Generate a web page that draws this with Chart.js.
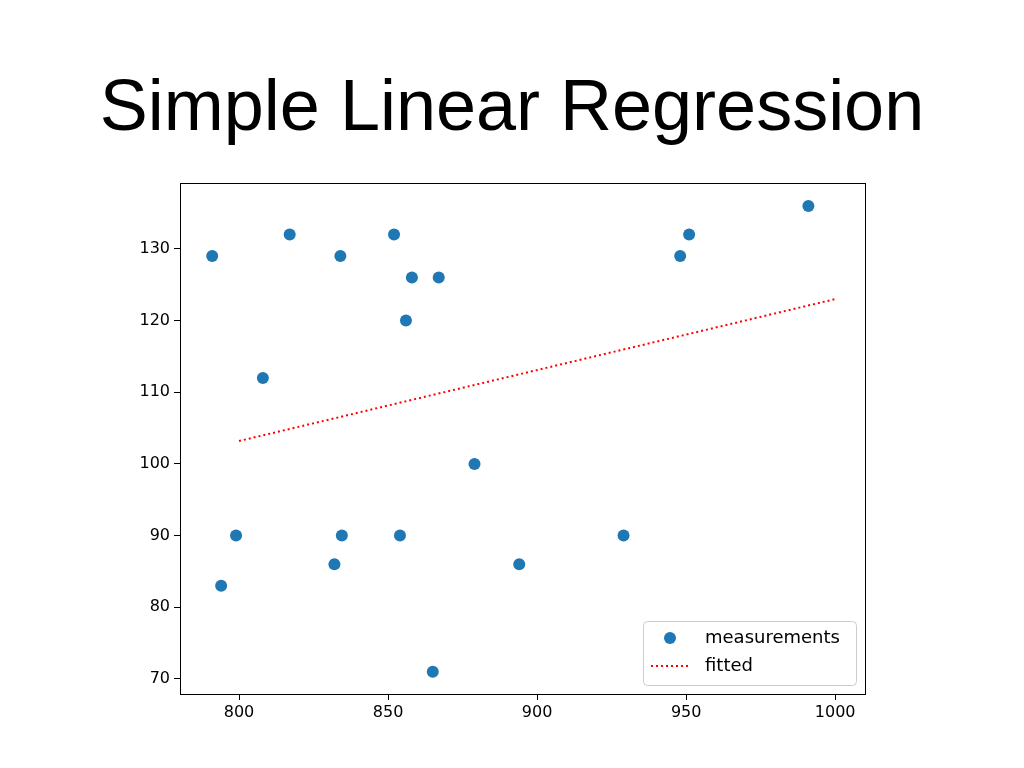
<!DOCTYPE html>
<html>
<head>
<meta charset="utf-8">
<script src="https://cdn.jsdelivr.net/npm/chart.js@4/dist/chart.umd.min.js"></script>
<style>
body{margin:0;background:#fff;}
#wrap{width:1024px;height:768px;}
</style>
</head>
<body>
<div id="wrap"><canvas id="chart" width="1024" height="768"></canvas></div>
<script>
const measX=[791,794,799,808,817,832,834,834.5,852,854,856,858,865,867,879,894,929,948,951,991];
const measY=[129,83,90,112,132,86,129,90,132,90,120,126,71,126,100,86,90,129,132,136];
const fitX=[800,1000];
const fitY=[103.2,123.0];
const xTicks=[800,850,900,950,1000];
const yTicks=[70,80,90,100,110,120,130];

const blue="#1f77b4";

const extras={
    id:"extras",
    afterDraw(c){
        const g=c.ctx, a=c.chartArea;
        g.save();
        g.fillStyle="#000";
        g.font="72px 'Liberation Sans', Arial, sans-serif";
        g.textAlign="center";
        g.textBaseline="middle";
        g.fillText("Simple Linear Regression",512,110);
        g.strokeStyle="#000";g.lineWidth=1;
        g.strokeRect(a.left+0.5,a.top+0.5,a.right-a.left,a.bottom-a.top);
        // legend box
        g.strokeStyle="#ccc";g.fillStyle="rgba(255,255,255,0.8)";
        g.beginPath();g.roundRect(643.5,621.5,213,64,4);g.fill();g.stroke();
        g.fillStyle=blue;g.beginPath();g.arc(670,638,6,0,Math.PI*2);g.fill();
        g.strokeStyle="red";g.lineWidth=2;g.setLineDash([2,3]);
        g.beginPath();g.moveTo(651,666);g.lineTo(690,666);g.stroke();
        g.setLineDash([]);
        g.fillStyle="#000";g.font="18px 'DejaVu Sans', sans-serif";
        g.textAlign="left";
        g.fillText("measurements",705,638);
        g.fillText("fitted",705,666);
        g.restore();
    }
};

new Chart(document.getElementById("chart"),{
    type:"scatter",
    data:{datasets:[
        {label:"measurements",data:measX.map((x,i)=>({x,y:measY[i]})),
         backgroundColor:blue,borderColor:blue,pointRadius:6,pointHoverRadius:6,borderWidth:0},
        {label:"fitted",type:"line",data:fitX.map((x,i)=>({x,y:fitY[i]})),
         borderColor:"red",borderWidth:2,borderDash:[2,3],pointRadius:0,fill:false}
    ]},
    options:{
        responsive:false,animation:false,
        layout:{padding:{top:183,right:159,left:0,bottom:0}},
        plugins:{legend:{display:false},tooltip:{enabled:false}},
        scales:{
            x:{type:"linear",min:780.2,max:1010,
               afterBuildTicks:s=>{s.ticks=xTicks.map(v=>({value:v}));},
               afterFit:s=>{s.height=74;},
               grid:{drawOnChartArea:false,tickLength:6,color:"#000"},border:{color:"#000"},
               ticks:{color:"#000",font:{family:"DejaVu Sans",size:16},maxRotation:0,padding:3,
                      callback:v=>String(v)}},
            y:{type:"linear",min:67.9,max:139.2,
               afterBuildTicks:s=>{s.ticks=yTicks.map(v=>({value:v}));},
               afterFit:s=>{s.width=180;},
               grid:{drawOnChartArea:false,tickLength:6,color:"#000"},border:{color:"#000"},
               ticks:{color:"#000",font:{family:"DejaVu Sans",size:16},padding:4,
                      callback:v=>String(v)}}
        }
    },
    plugins:[extras]
});
</script>
</body>
</html>
